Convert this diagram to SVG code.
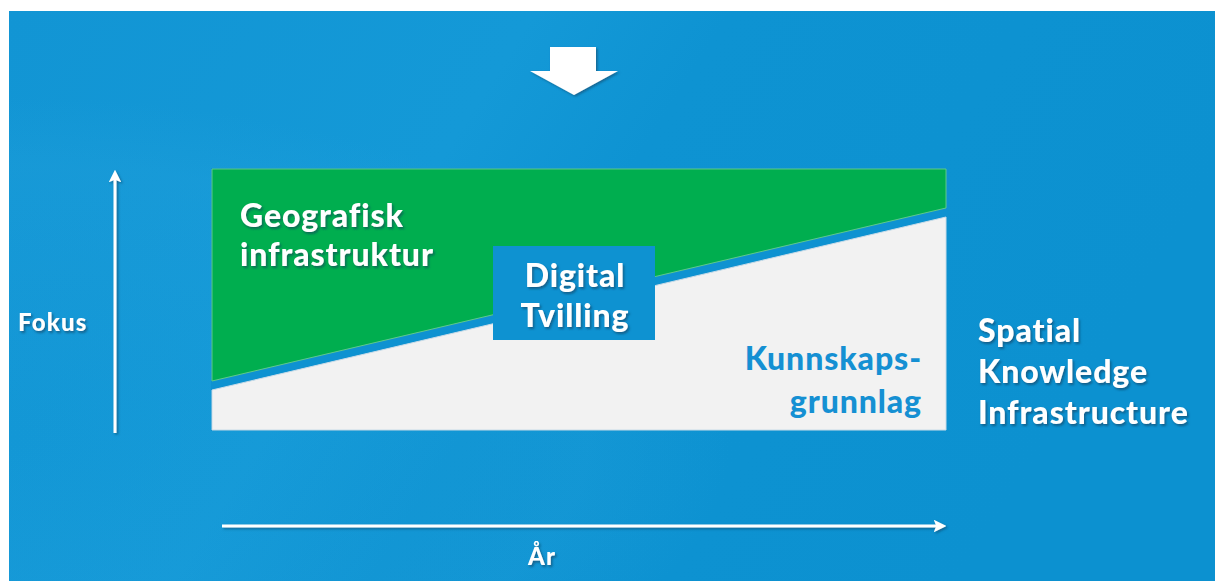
<svg xmlns="http://www.w3.org/2000/svg" width="1215" height="581" viewBox="0 0 1215 581">
  <defs>
    <linearGradient id="bg" x1="0" y1="0" x2="1" y2="0.3">
      <stop offset="0" stop-color="#1295d4"/>
      <stop offset="0.4" stop-color="#1499d7"/>
      <stop offset="0.55" stop-color="#0e93d2"/>
      <stop offset="1" stop-color="#0c91d0"/>
    </linearGradient>
    <radialGradient id="sweep" cx="0.0" cy="0.75" r="0.6">
      <stop offset="0" stop-color="#2aa6df" stop-opacity="0.0"/>
      <stop offset="0.8" stop-color="#2aa6df" stop-opacity="0.2"/>
      <stop offset="1" stop-color="#2aa6df" stop-opacity="0"/>
    </radialGradient>
    <filter id="sh" x="-10%" y="-20%" width="130%" height="150%">
      <feDropShadow dx="1.5" dy="2" stdDeviation="1.2" flood-color="#0a3a5a" flood-opacity="0.6"/>
    </filter>
    <filter id="shl" x="-20%" y="-20%" width="140%" height="140%">
      <feDropShadow dx="1.5" dy="1.5" stdDeviation="1" flood-color="#0a3a5a" flood-opacity="0.55"/>
    </filter>
    <marker id="ah" viewBox="0 0 10 10" refX="5" refY="5" markerWidth="4.2" markerHeight="4.2" orient="auto" markerUnits="strokeWidth">
      <path d="M0,0 L10,5 L0,10 L2,5 Z" fill="#ffffff"/>
    </marker>
    <style>
      .t { font-family: "Lato", "Liberation Sans", sans-serif; font-weight: 900; fill: #ffffff; }
      .tb { font-family: "Lato", "Liberation Sans", sans-serif; font-weight: 900; fill: #1590d3; }
      .big { font-size: 32px; letter-spacing: 0.9px; }
      .sm { font-size: 24px; letter-spacing: 1.2px; }
      .ax { stroke: #ffffff; stroke-width: 3; fill: none; }
    </style>
  </defs>

  <rect x="0" y="0" width="1215" height="581" fill="#ffffff"/>
  <rect x="9" y="11" width="1206" height="570" fill="url(#bg)"/>
  <rect x="9" y="11" width="1206" height="570" fill="url(#sweep)"/>

  <!-- top arrow -->
  <g id="top-arrow" filter="url(#shl)">
    <polygon points="550,47 596,47 596,71 618,71 574,95 530,71 550,71" fill="#ffffff"/>
  </g>

  <!-- chart -->
  <g id="chart">
    <rect x="211" y="168" width="736" height="263" fill="#0e92d1"/>
    <polygon id="green-area" points="212,169 946,169 946,208 212,381" fill="#00ae4f" stroke="#5fc98a" stroke-width="1"/>
    <polygon id="white-area" points="212,390 946,217 946,430 212,430" fill="#f2f2f2" stroke="#c9dce8" stroke-width="1"/>
  </g>

  <g id="geografisk">
    <text class="t big" filter="url(#sh)" x="240" y="227">Geografisk</text>
    <text class="t big" filter="url(#sh)" x="240" y="266">infrastruktur</text>
  </g>

  <g id="digital-tvilling">
    <rect x="493" y="246" width="162" height="94" fill="#0e92d1"/>
    <text class="t big" filter="url(#sh)" x="575" y="287" text-anchor="middle">Digital</text>
    <text class="t big" filter="url(#sh)" x="575" y="327" text-anchor="middle">Tvilling</text>
  </g>

  <g id="kunnskapsgrunnlag">
    <text class="tb big" x="922" y="370" text-anchor="end">Kunnskaps-</text>
    <text class="tb big" x="922" y="413" text-anchor="end">grunnlag</text>
  </g>

  <g id="spatial">
    <text class="t big" filter="url(#sh)" x="978" y="342">Spatial</text>
    <text class="t big" filter="url(#sh)" x="978" y="383">Knowledge</text>
    <text class="t big" filter="url(#sh)" x="978" y="424">Infrastructure</text>
  </g>

  <g id="fokus">
    <text class="t sm" filter="url(#sh)" x="18" y="331">Fokus</text>
  </g>

  <g id="aar">
    <text class="t sm" filter="url(#sh)" x="528" y="565">År</text>
  </g>

  <g id="connectors" filter="url(#shl)">
    <line class="ax" x1="115" y1="433" x2="115" y2="176" marker-end="url(#ah)"/>
    <line class="ax" x1="222" y1="526" x2="940" y2="526" marker-end="url(#ah)"/>
  </g>
</svg>
